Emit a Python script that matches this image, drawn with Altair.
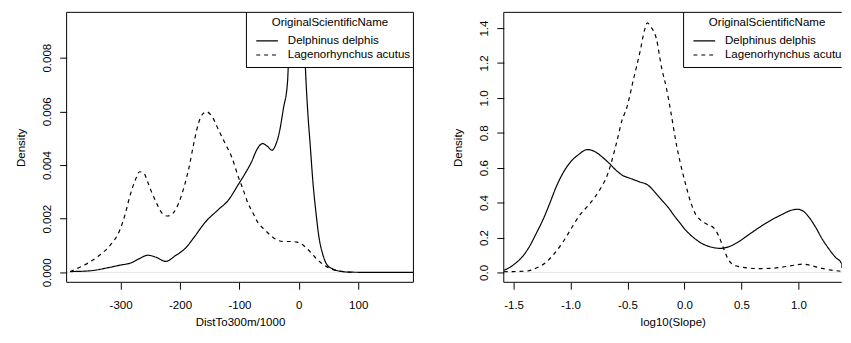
import altair as alt
import pandas as pd

SPECIES = ["Delphinus delphis", "Lagenorhynchus acutus"]
LEGEND_TITLE = "OriginalScientificName"

# ---- left panel: DistTo300m/1000 densities ----
dist_x_delphinus = [-385, -351, -320, -301, -282, -268, -254, -240, -224, -208, -191, -175, -158,
                    -135, -119, -102, -90, -80, -70, -61, -53, -45, -40, -33, -26, -19, -15, -10,
                    -5, 0, 4, 8, 11, 15, 19, 24, 29, 34, 40, 47, 58, 70, 85, 120, 160, 193]
dist_y_delphinus = [0.00003, 0.00006, 0.00018, 0.00027, 0.00036, 0.00052, 0.00064, 0.00056, 0.00041,
                    0.00062, 0.00090, 0.00135, 0.00186, 0.00235, 0.00268, 0.00327, 0.0037, 0.0041,
                    0.0046, 0.0048, 0.0047, 0.00455, 0.0047, 0.0052, 0.0061, 0.0071, 0.0097, 0.0120,
                    0.0132, 0.0134, 0.0122, 0.0097, 0.0077, 0.0060, 0.0048, 0.0033, 0.0022, 0.0013,
                    0.0007, 0.0003, 0.00012, 0.00004, 0.00001, 0.0, 0.0, 0.0]
dist_x_lagenorhynchus = [-385, -368, -351, -335, -318, -301, -292, -285, -276, -268, -261, -255, -248,
                         -240, -230, -221, -212, -202, -193, -185, -176, -169, -162, -155, -146, -135,
                         -124, -113, -102, -94, -86, -77, -69, -58, -47, -36, -25, -14, -3, 5, 14, 22,
                         30, 41, 52, 63, 75, 95]
dist_y_lagenorhynchus = [0.00003, 0.0002, 0.0004, 0.00065, 0.0010, 0.0016, 0.0022, 0.0028, 0.0034,
                         0.00375, 0.0037, 0.0034, 0.0030, 0.0026, 0.0022, 0.0021, 0.0022, 0.0026,
                         0.0032, 0.0039, 0.0049, 0.00555, 0.0059, 0.00598, 0.0058, 0.0053, 0.0048,
                         0.0043, 0.00357, 0.0031, 0.0026, 0.0022, 0.00186, 0.0016, 0.00137, 0.0012,
                         0.00115, 0.00115, 0.00113, 0.00105, 0.00088, 0.0007, 0.0005, 0.0003,
                         0.00015, 0.00007, 0.00003, 0.0]

# ---- right panel: log10(Slope) densities ----
slope_x_delphinus = [-1.586, -1.53, -1.47, -1.41, -1.356, -1.30, -1.24, -1.18, -1.126, -1.07, -1.01,
                     -0.93, -0.852, -0.78, -0.72, -0.665, -0.60, -0.54, -0.48, -0.40, -0.32, -0.26,
                     -0.20, -0.14, -0.089, -0.03, 0.0, 0.07, 0.142, 0.22, 0.315, 0.40, 0.473, 0.55,
                     0.65, 0.747, 0.85, 0.93, 0.99, 1.04, 1.10, 1.15, 1.21, 1.266, 1.32, 1.38, 1.45]
slope_y_delphinus = [0.013, 0.03, 0.06, 0.10, 0.154, 0.225, 0.305, 0.40, 0.49, 0.565, 0.625, 0.675,
                     0.704, 0.69, 0.66, 0.628, 0.585, 0.555, 0.54, 0.52, 0.50, 0.46, 0.415, 0.37,
                     0.324, 0.275, 0.25, 0.205, 0.17, 0.148, 0.138, 0.15, 0.175, 0.21, 0.255, 0.295,
                     0.33, 0.355, 0.362, 0.352, 0.31, 0.26, 0.19, 0.136, 0.09, 0.05, 0.025]
slope_x_lagenorhynchus = [-1.586, -1.50, -1.385, -1.30, -1.212, -1.14, -1.068, -1.00, -0.924, -0.85,
                          -0.78, -0.72, -0.694, -0.636, -0.59, -0.549, -0.506, -0.45, -0.39, -0.35,
                          -0.325, -0.30, -0.247, -0.20, -0.16, -0.12, -0.07, 0.0, 0.056, 0.10, 0.142,
                          0.20, 0.257, 0.30, 0.344, 0.38, 0.415, 0.47, 0.531, 0.65, 0.747, 0.85, 0.95,
                          1.04, 1.12, 1.208, 1.30, 1.38, 1.45]
slope_y_lagenorhynchus = [0.004, 0.005, 0.008, 0.025, 0.06, 0.11, 0.173, 0.245, 0.324, 0.38, 0.437,
                          0.50, 0.531, 0.644, 0.76, 0.87, 0.945, 1.10, 1.265, 1.39, 1.43, 1.41, 1.34,
                          1.17, 1.06, 0.92, 0.73, 0.53, 0.40, 0.33, 0.30, 0.275, 0.255, 0.21, 0.136,
                          0.08, 0.05, 0.035, 0.028, 0.022, 0.023, 0.03, 0.04, 0.048, 0.038, 0.023,
                          0.012, 0.005, 0.002]

FONT = "Liberation Sans"
FS = 11.7
H = 274
W_LEFT = 352
W_RIGHT = 343          # right panel is cut by the window edge, as in the reference
LEG_X0 = 182.5         # legend box left edge (px from plot left)
LEG_W = 169.5          # legend box width
LEG_H = 56


def long_df(xa, ya, xb, yb):
    return pd.DataFrame({
        "x": xa + xb,
        "y": ya + yb,
        "species": [SPECIES[0]] * len(xa) + [SPECIES[1]] * len(xb),
    })


def fmt_expr(f):
    return "replace(format(datum.value, '" + f + "'), '\u2212', '-')"


def one():
    return pd.DataFrame({"k": [0]})


def hrule(x0, x1, y, **kw):
    return alt.Chart(one()).mark_rule(color="black", strokeWidth=1, **kw).encode(
        x=alt.value(x0), x2=alt.value(x1), y=alt.value(y))


def vrule(x, y0, y1):
    return alt.Chart(one()).mark_rule(color="black", strokeWidth=1).encode(
        x=alt.value(x), y=alt.value(y0), y2=alt.value(y1))


def panel(df, width, xdom, ydom, xticks, yticks, xfmt, yfmt, xtitle, right_side):
    dash_scale = alt.Scale(domain=SPECIES, range=[[1, 0], [4, 4]])
    xaxis = alt.Axis(values=xticks, tickCount=20, labelExpr=fmt_expr(xfmt), title=xtitle,
                     tickSize=7, labelPadding=19.3, labelBaseline="alphabetic", labelFlush=False,
                     labelOverlap=False, titleBaseline="alphabetic", titlePadding=13.5,
                     minExtent=30, maxExtent=30)
    yaxis = alt.Axis(values=yticks, tickCount=20, labelExpr=fmt_expr(yfmt), title="Density",
                     tickSize=7, labelAngle=270, labelAlign="center", labelBaseline="alphabetic",
                     labelPadding=9.2, labelOverlap=False, titleBaseline="alphabetic",
                     titlePadding=13, minExtent=30, maxExtent=30)
    zero = alt.Chart(one()).mark_rule(color="#d4d4d4", strokeWidth=0.6).encode(y=alt.datum(0))
    lines = alt.Chart(df).mark_line(
        clip=True, color="black", strokeWidth=1.2, interpolate="monotone").encode(
        x=alt.X("x:Q", scale=alt.Scale(domain=xdom, nice=False, zero=False, clamp=True), axis=xaxis),
        y=alt.Y("y:Q", scale=alt.Scale(domain=ydom, nice=False, zero=False), axis=yaxis),
        strokeDash=alt.StrokeDash("species:N", scale=dash_scale, legend=None),
    )
    leg_x1 = width if right_side else LEG_X0 + LEG_W
    # legend background (opaque, like R's legend box)
    fill = alt.Chart(one()).mark_rect(fill="white", strokeWidth=0).encode(
        x=alt.value(LEG_X0), x2=alt.value(leg_x1), y=alt.value(0), y2=alt.value(LEG_H))
    # plot frame
    frame = [hrule(0, width, 0), hrule(0, width, H), vrule(0, 0, H)]
    if not right_side:
        frame.append(vrule(width, 0, H))
    # legend frame
    frame += [hrule(LEG_X0, leg_x1, LEG_H), vrule(LEG_X0, 0, LEG_H)]
    ttl = alt.Chart(pd.DataFrame({"t": [LEGEND_TITLE]})).mark_text(
        font=FONT, fontSize=FS, align="center", baseline="alphabetic", color="black").encode(
        text="t:N", x=alt.value(LEG_X0 + LEG_W / 2), y=alt.value(13.4))
    layers = [zero, lines, fill] + frame + [ttl]
    dashes = [[1, 0], [4, 4]]
    text_kw = dict(font=FONT, fontSize=FS, align="left", baseline="alphabetic", color="black")
    if right_side:
        text_kw.update(limit=width - (LEG_X0 + 42) + 0.3, ellipsis="\u200b")
    for i, sp in enumerate(SPECIES):
        d = pd.DataFrame({"species": [sp]})
        layers.append(alt.Chart(d).mark_rule(
            color="black", strokeWidth=1.2, strokeDash=dashes[i]).encode(
            x=alt.value(LEG_X0 + 10), x2=alt.value(LEG_X0 + 32), y=alt.value(29 + 14.3 * i)))
        layers.append(alt.Chart(d).mark_text(**text_kw).encode(
            text="species:N", x=alt.value(LEG_X0 + 42), y=alt.value(31.8 + 14.3 * i)))
    return alt.layer(*layers).properties(width=width, height=H)


left = panel(long_df(dist_x_delphinus, dist_y_delphinus, dist_x_lagenorhynchus, dist_y_lagenorhynchus),
             W_LEFT, [-391, 193], [-0.00037, 0.00969], [-300, -200, -100, 0, 100],
             [0, 0.002, 0.004, 0.006, 0.008], "d", ".3f", "DistTo300m/1000", False)
right = panel(long_df(slope_x_delphinus, slope_y_delphinus, slope_x_lagenorhynchus, slope_y_lagenorhynchus),
              W_RIGHT, [-1.586, 1.380], [-0.0565, 1.49], [-1.5, -1.0, -0.5, 0.0, 0.5, 1.0],
              [0, 0.2, 0.4, 0.6, 0.8, 1.0, 1.2, 1.4], ".1f", ".1f", "log10(Slope)", True)

chart = alt.hconcat(left, right, spacing=38.7).properties(
    padding={"left": 7.5, "top": 1, "right": 0, "bottom": 0},
    background="white",
).configure_view(strokeWidth=0).configure_axis(
    domain=False, grid=False, tickColor="black", tickWidth=1, labelColor="black",
    titleColor="black", labelFont=FONT, titleFont=FONT, labelFontSize=FS, titleFontSize=FS,
    titleFontWeight="normal", labelOverlap=False)

chart.save("out.html", embed_options={"renderer": "svg", "actions": False})
